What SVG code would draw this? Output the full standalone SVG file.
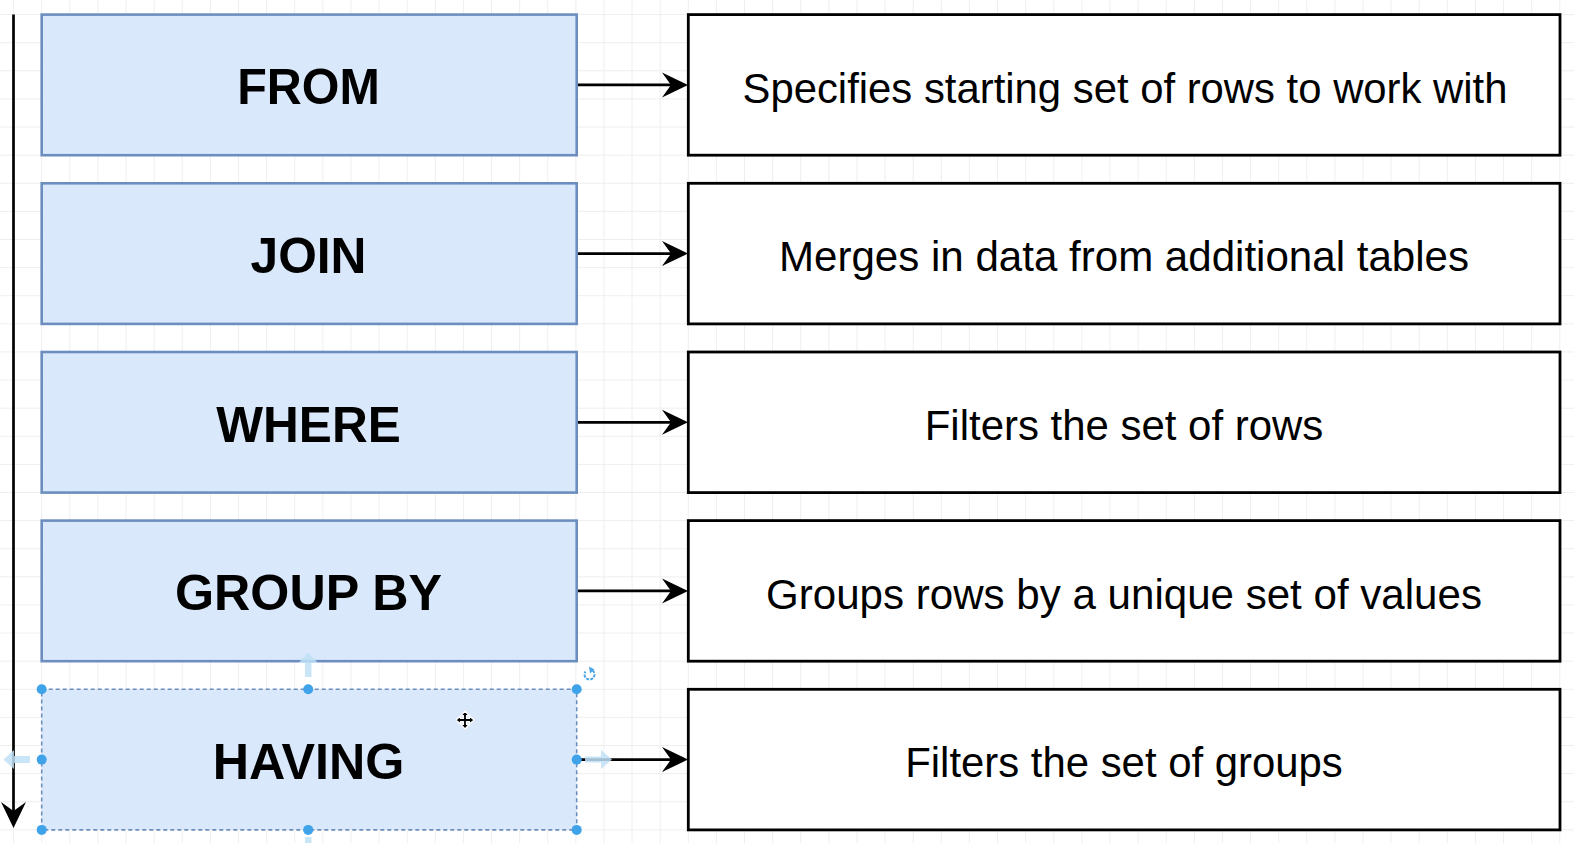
<svg xmlns="http://www.w3.org/2000/svg" width="1574" height="843" viewBox="0 0 1574 843">
<style>
.lbox{fill:#dae8fc;stroke:#6c8ebf;stroke-width:2.6}
.rbox{fill:#ffffff;stroke:#000000;stroke-width:2.8}
.ltxt{font-family:"Liberation Sans",Arial,sans-serif;font-weight:bold;font-size:49.5px;fill:#000;text-anchor:middle}
.rtxt{font-family:"Liberation Sans",Arial,sans-serif;font-size:43px;fill:#000;text-anchor:middle}
.conn{stroke:#000;stroke-width:2.7;fill:none}
.handle{fill:#3fa3ea}
.ghost{fill:#bfe0f6;opacity:0.85}
</style>
<defs>
<pattern id="grid" patternUnits="userSpaceOnUse" x="13.1" y="14.1" width="28.113" height="28.113">
<rect x="0" y="0" width="28.113" height="1" fill="#eeeeee"/>
<rect x="0" y="0" width="1" height="28.113" fill="#eeeeee"/>
</pattern>
<marker id="arr" markerUnits="userSpaceOnUse" markerWidth="27" markerHeight="27" viewBox="0 0 27 27" refX="17" refY="13" orient="auto">
<path d="M0,0.5 L26,13 L0,25.5 L9,13 Z" fill="#000"/>
</marker>
</defs>
<rect width="1574" height="843" fill="#ffffff"/>
<rect width="1574" height="843" fill="url(#grid)"/>

<g id="connectors">
<line class="conn" x1="13.5" y1="14.5" x2="13.5" y2="819" marker-end="url(#arr)"/>
<line class="conn" x1="577" y1="84.9" x2="679" y2="84.9" marker-end="url(#arr)"/>
<line class="conn" x1="577" y1="253.6" x2="679" y2="253.6" marker-end="url(#arr)"/>
<line class="conn" x1="577" y1="422.3" x2="679" y2="422.3" marker-end="url(#arr)"/>
<line class="conn" x1="577" y1="590.9" x2="679" y2="590.9" marker-end="url(#arr)"/>
<line class="conn" x1="577" y1="759.6" x2="679" y2="759.6" marker-end="url(#arr)"/>
</g>

<g id="from">
<rect class="lbox" x="41.7" y="14.6" width="535" height="140.6"/>
<text class="ltxt" x="308.5" y="104.4" textLength="142.6" lengthAdjust="spacingAndGlyphs">FROM</text>
</g>
<g id="from-desc">
<rect class="rbox" x="688.3" y="14.6" width="871.7" height="140.6"/>
<text class="rtxt" x="1125" y="102.7" textLength="765" lengthAdjust="spacingAndGlyphs">Specifies starting set of rows to work with</text>
</g>

<g id="join">
<rect class="lbox" x="41.7" y="183.3" width="535" height="140.6"/>
<text class="ltxt" x="308.5" y="273.1" textLength="116" lengthAdjust="spacingAndGlyphs">JOIN</text>
</g>
<g id="join-desc">
<rect class="rbox" x="688.3" y="183.3" width="871.7" height="140.6"/>
<text class="rtxt" x="1124" y="271.4" textLength="690" lengthAdjust="spacingAndGlyphs">Merges in data from additional tables</text>
</g>

<g id="where">
<rect class="lbox" x="41.7" y="352" width="535" height="140.6"/>
<text class="ltxt" x="308.5" y="441.8" textLength="184.5" lengthAdjust="spacingAndGlyphs">WHERE</text>
</g>
<g id="where-desc">
<rect class="rbox" x="688.3" y="352" width="871.7" height="140.6"/>
<text class="rtxt" x="1124" y="440.1" textLength="398.5" lengthAdjust="spacingAndGlyphs">Filters the set of rows</text>
</g>

<g id="groupby">
<rect class="lbox" x="41.7" y="520.6" width="535" height="140.6"/>
<text class="ltxt" x="308.5" y="610.4" textLength="267" lengthAdjust="spacingAndGlyphs">GROUP BY</text>
</g>
<g id="groupby-desc">
<rect class="rbox" x="688.3" y="520.6" width="871.7" height="140.6"/>
<text class="rtxt" x="1124" y="608.7" textLength="716" lengthAdjust="spacingAndGlyphs">Groups rows by a unique set of values</text>
</g>

<g id="having">
<rect x="41.7" y="689.3" width="535" height="140.6" fill="#dae8fc" stroke="#6c8ebf" stroke-width="1.6" stroke-dasharray="4 3"/>
<text class="ltxt" x="308.5" y="779.1" textLength="191.7" lengthAdjust="spacingAndGlyphs">HAVING</text>
</g>
<g id="having-desc">
<rect class="rbox" x="688.3" y="689.3" width="871.7" height="140.6"/>
<text class="rtxt" x="1124" y="777.4" textLength="437.6" lengthAdjust="spacingAndGlyphs">Filters the set of groups</text>
</g>

<g id="selection">
<path class="ghost" d="M305,677 V663 H298.5 L308.2,652.5 L318,663 H311.5 V677 Z"/>
<path class="ghost" d="M30,756 H14 V750 L3.5,759.6 L14,769 V763 H30 Z"/>
<path class="ghost" d="M585,756.5 H601 V750 L612,759.6 L601,769 V762.5 H585 Z"/>
<path class="ghost" d="M305,837 V843 H311.5 V837 Z"/>
<circle class="handle" cx="41.7" cy="689.3" r="5"/>
<circle class="handle" cx="308.2" cy="689.3" r="5"/>
<circle class="handle" cx="576.7" cy="689.3" r="5"/>
<circle class="handle" cx="41.7" cy="759.6" r="5"/>
<circle class="handle" cx="576.7" cy="759.6" r="5"/>
<circle class="handle" cx="41.7" cy="829.9" r="5"/>
<circle class="handle" cx="308.2" cy="829.9" r="5"/>
<circle class="handle" cx="576.7" cy="829.9" r="5"/>
<path d="M592.5,670.5 A5,5 0 1 1 585.5,671.5" fill="none" stroke="#4aa6e6" stroke-width="2" stroke-dasharray="3 1.2"/>
<path d="M589,666.5 L594.5,669.5 L590,673.5 Z" fill="#4aa6e6"/>
<path d="M465,711 L469,715.5 H466.5 V718.5 H469.5 V716 L474,720 L469.5,724 V721.5 H466.5 V724.5 H469 L465,729 L461,724.5 H463.5 V721.5 H460.5 V724 L456,720 L460.5,716 V718.5 H463.5 V715.5 H461 Z" fill="#000" stroke="#fff" stroke-width="1.2" stroke-linejoin="round"/>
</g>
</svg>
